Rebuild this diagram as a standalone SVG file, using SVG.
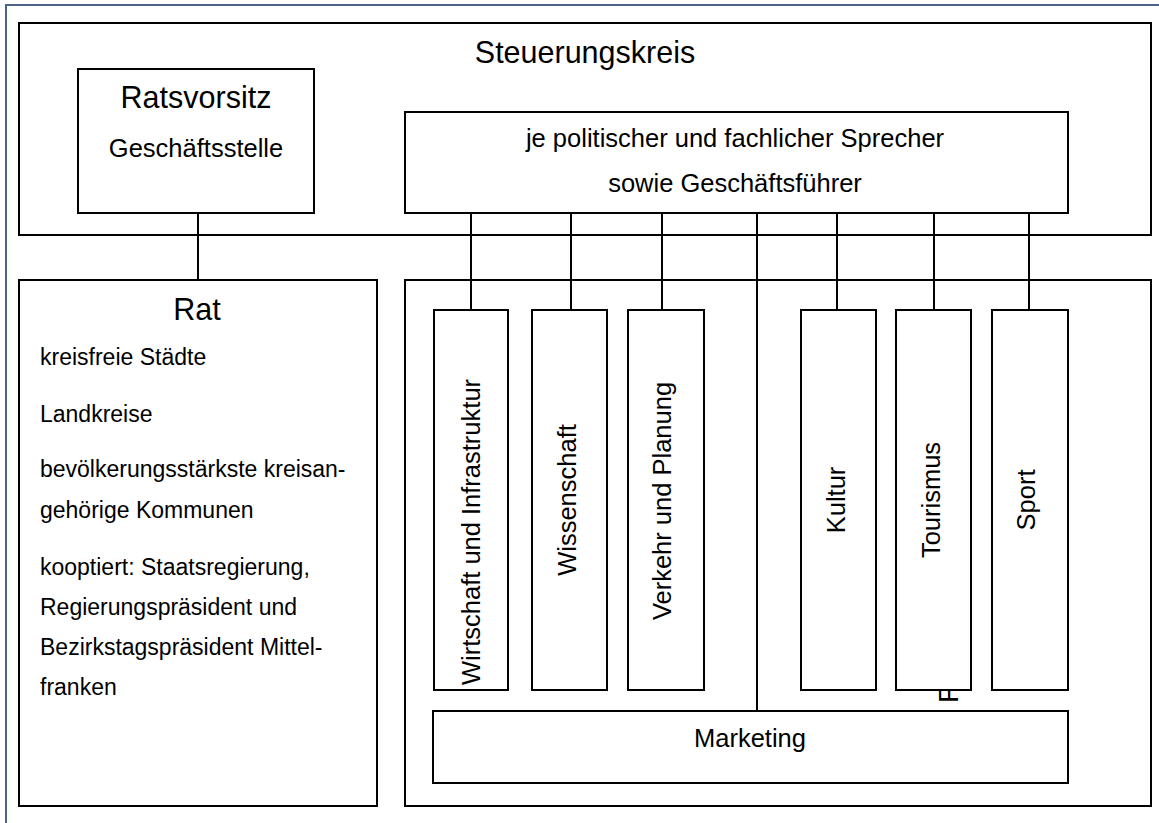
<svg xmlns="http://www.w3.org/2000/svg" width="1159" height="823" viewBox="0 0 1159 823">
  <style>
    .box { fill: #ffffff; stroke: #000000; stroke-width: 2; }
    .frame { fill: none; stroke: #000000; stroke-width: 2; }
    .link { stroke: #000000; stroke-width: 2; fill: none; }
    text { font-family: "Liberation Sans", Arial, sans-serif; fill: #000000; }
    .title { font-size: 30.5px; text-anchor: middle; }
    .label { font-size: 25.5px; text-anchor: middle; }
    .item { font-size: 23px; }
  </style>

  <rect width="1159" height="823" fill="#ffffff"/>
  <!-- page border -->
  <path d="M6,823 V5 H1159" fill="none" stroke="#4a6387" stroke-width="2"/>

  <!-- container boxes -->
  <g id="steuerungskreis">
    <rect class="frame" x="19" y="23" width="1132" height="212"/>
    <text class="title" x="585" y="63">Steuerungskreis</text>
  </g>
  <g id="arbeitskreise">
    <rect class="frame" x="405" y="280" width="746" height="526"/>
  </g>

  <!-- connectors -->
  <g id="connectors">
    <line class="link" x1="198" y1="213" x2="198" y2="280"/>
    <line class="link" x1="471" y1="213" x2="471" y2="310"/>
    <line class="link" x1="571" y1="213" x2="571" y2="310"/>
    <line class="link" x1="662" y1="213" x2="662" y2="310"/>
    <line class="link" x1="757" y1="213" x2="757" y2="711"/>
    <line class="link" x1="837" y1="213" x2="837" y2="310"/>
    <line class="link" x1="934" y1="213" x2="934" y2="310"/>
    <line class="link" x1="1029" y1="213" x2="1029" y2="310"/>
  </g>

  <g id="ratsvorsitz">
    <rect class="box" x="78" y="69" width="236" height="144"/>
    <text class="title" x="196" y="108">Ratsvorsitz</text>
    <text class="label" x="196" y="157">Geschäftsstelle</text>
  </g>

  <g id="sprecher">
    <rect class="box" x="405" y="112" width="663" height="101"/>
    <text class="label" x="735" y="147">je politischer und fachlicher Sprecher</text>
    <text class="label" x="735" y="192">sowie Geschäftsführer</text>
  </g>

  <g id="rat">
    <rect class="box" x="19" y="280" width="358" height="526"/>
    <text class="title" x="197" y="320">Rat</text>
    <text class="item" x="40" y="365">kreisfreie Städte</text>
    <text class="item" x="40" y="422">Landkreise</text>
    <text class="item" x="40" y="477">bevölkerungsstärkste kreisan-</text>
    <text class="item" x="40" y="518">gehörige Kommunen</text>
    <text class="item" x="40" y="575">kooptiert: Staatsregierung,</text>
    <text class="item" x="40" y="615">Regierungspräsident und</text>
    <text class="item" x="40" y="655">Bezirkstagspräsident Mittel-</text>
    <text class="item" x="40" y="695">franken</text>
  </g>

  <g id="wirtschaft">
    <rect class="box" x="434" y="310" width="74" height="380"/>
    <text class="label" transform="translate(480,532) rotate(-90)">Wirtschaft und Infrastruktur</text>
  </g>
  <g id="wissenschaft">
    <rect class="box" x="532" y="310" width="75" height="380"/>
    <text class="label" transform="translate(576,500) rotate(-90)">Wissenschaft</text>
  </g>
  <g id="verkehr">
    <rect class="box" x="628" y="310" width="76" height="380"/>
    <text class="label" transform="translate(671,501) rotate(-90)">Verkehr und Planung</text>
  </g>
  <g id="kultur">
    <rect class="box" x="801" y="310" width="75" height="380"/>
    <text class="label" transform="translate(845,500) rotate(-90)">Kultur</text>
  </g>

  <!-- stray letter partly hidden under the Tourismus column -->
  <text font-size="28" transform="translate(958,703) rotate(-90)">F</text>

  <g id="tourismus">
    <rect class="box" x="896" y="310" width="75" height="380"/>
    <text class="label" transform="translate(940,500) rotate(-90)">Tourismus</text>
  </g>
  <g id="sport">
    <rect class="box" x="992" y="310" width="76" height="380"/>
    <text class="label" transform="translate(1035,500) rotate(-90)">Sport</text>
  </g>

  <g id="marketing">
    <rect class="box" x="433" y="711" width="635" height="72"/>
    <text class="label" x="750" y="747">Marketing</text>
  </g>
</svg>
